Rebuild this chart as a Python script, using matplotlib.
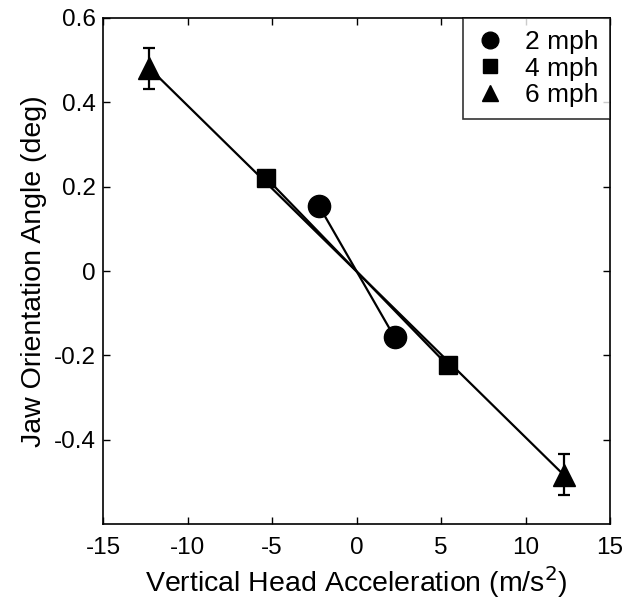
import matplotlib
matplotlib.use("Agg")
import matplotlib.pyplot as plt
import numpy as np

plt.rcParams['font.family'] = ['Liberation Sans', 'DejaVu Sans']

labels = ["2 mph", "4 mph", "6 mph"]
markers = ["o", "s", "^"]
x_vals = [[-2.2, 2.25], [-5.35, 5.4], [-12.25, 12.25]]
y_vals = [[0.153, -0.157], [0.221, -0.224], [0.481, -0.483]]
y_err = [[0, 0], [0, 0], [0.049, 0.049]]
msizes = [16, 12.5, 16]

fig = plt.figure(figsize=(6.26, 6.04), dpi=100)
ax = fig.add_axes([103/626, 1 - 524/604, (610-103)/626, (524-18)/604])

for xs, ys, es, m, ms, lab in zip(x_vals, y_vals, y_err, markers, msizes, labels):
    ax.plot(xs, ys, color='black', lw=1.6, zorder=2)
    if any(es):
        ax.errorbar(xs, ys, yerr=es, fmt='none', ecolor='black', elinewidth=1.6,
                    capsize=4, capthick=1.6, zorder=2)
    ax.plot(xs, ys, linestyle='none', marker=m, color='black', ms=ms, zorder=3, label=lab)

ax.set_xlim(-15, 15)
ax.set_ylim(-0.6, 0.6)
ax.set_xticks([-15, -10, -5, 0, 5, 10, 15])
ax.set_xticklabels(["-15", "-10", "-5", "0", "5", "10", "15"])
ax.set_yticks([-0.4, -0.2, 0, 0.2, 0.4, 0.6])
ax.set_yticklabels(["-0.4", "-0.2", "0", "0.2", "0.4", "0.6"])
ax.tick_params(direction='in', top=True, right=True, length=5, width=1, labelsize=17.5)
ax.tick_params(axis='x', pad=9)
ax.tick_params(axis='y', pad=5)
for s in ax.spines.values():
    s.set_linewidth(1.2)

ax.set_xlabel("Vertical Head Acceleration (m/s$^2$)", fontsize=20.5, labelpad=4)
ax.set_ylabel("Jaw Orientation Angle (deg)", fontsize=20.5, labelpad=5)

leg = ax.legend(loc='upper right', frameon=True, fancybox=False, fontsize=19,
                borderaxespad=0, handletextpad=0.7, markerscale=0.75,
                handlelength=1.2, borderpad=0.45, labelspacing=0.1)
leg.get_frame().set_edgecolor('black')
leg.get_frame().set_linewidth(1.2)

fig.savefig("out.png", dpi=100, facecolor='white')
